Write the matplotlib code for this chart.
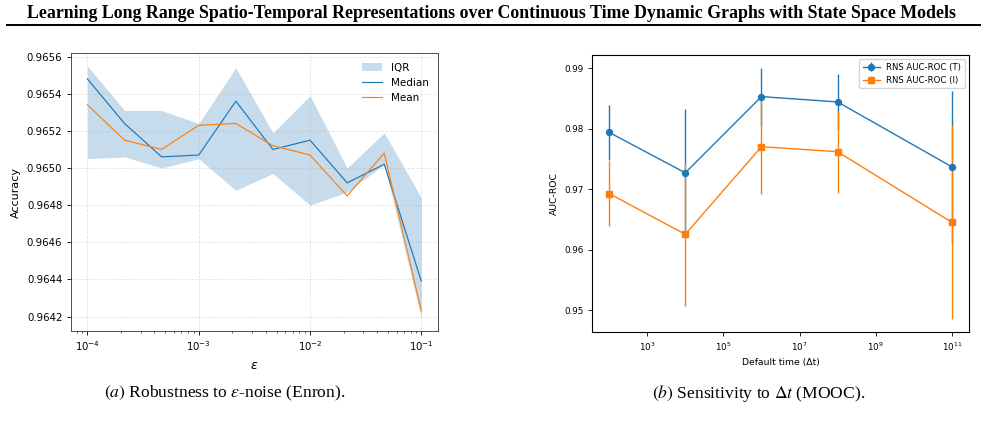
import matplotlib
matplotlib.use("Agg")
import matplotlib.pyplot as plt
from matplotlib.lines import Line2D
from matplotlib.ticker import FormatStrFormatter

plt.rcParams['mathtext.fontset'] = 'stix'

# (a) robustness to epsilon-noise (Enron)
eps = [1e-4, 2.154e-4, 4.642e-4, 1e-3, 2.154e-3, 4.642e-3, 1e-2, 2.154e-2, 4.642e-2, 1e-1]
median = [0.96548, 0.96524, 0.96506, 0.96507, 0.96536, 0.96510, 0.96515, 0.96492, 0.96502, 0.96439]
mean = [0.96534, 0.96515, 0.96510, 0.96523, 0.96524, 0.96512, 0.96507, 0.96485, 0.96508, 0.96423]
iqr_hi = [0.96555, 0.96531, 0.96531, 0.96524, 0.96554, 0.96519, 0.96539, 0.96500, 0.96519, 0.96484]
iqr_lo = [0.96505, 0.96506, 0.96500, 0.96505, 0.96488, 0.96497, 0.96480, 0.96487, 0.96502, 0.96419]

# (b) sensitivity to default time (MOOC)
dt = [1e2, 1e4, 1e6, 1e8, 1e11]
auc_t = [0.97939, 0.97271, 0.98530, 0.98442, 0.97370]
err_t = [0.00450, 0.01060, 0.00480, 0.00460, 0.01254]
auc_i = [0.96928, 0.96254, 0.97702, 0.97619, 0.96453]
err_i = [0.00530, 0.01180, 0.00780, 0.00680, 0.01600]

fig = plt.figure(figsize=(9.85, 4.21), dpi=100)

# page header
fig.text(0.4985, 0.969, "Learning Long Range Spatio-Temporal Representations over Continuous Time Dynamic Graphs with State Space Models",
         ha='center', va='center', family='Liberation Serif', weight='bold', fontsize=12.85)
fig.add_artist(Line2D([0.007, 0.995], [0.940, 0.940], transform=fig.transFigure, color='black', lw=1.4))

# left panel
ax1 = fig.add_axes([0.0718, 0.2138, 0.3729, 0.6596])
ax1.fill_between(eps, iqr_lo, iqr_hi, color='C0', alpha=0.25, lw=0, label='IQR')
ax1.plot(eps, median, color='C0', lw=0.85, label='Median')
ax1.plot(eps, mean, color='C1', lw=0.85, label='Mean')
ax1.set_xscale('log')
ax1.yaxis.set_major_formatter(FormatStrFormatter('%.4f'))
ax1.set_yticks([0.9642, 0.9644, 0.9646, 0.9648, 0.9650, 0.9652, 0.9654, 0.9656])
ax1.grid(True, linestyle='--', alpha=0.35, lw=0.6)
ax1.set_xlabel(r'$\varepsilon$', fontsize=9, math_fontfamily='dejavusans')
ax1.set_ylabel('Accuracy', fontsize=8)
ax1.tick_params(labelsize=7.3, width=0.6, length=2.6)
ax1.tick_params(which='minor', width=0.45, length=1.5)
ax1.legend(loc='upper right', frameon=False, fontsize=7.5, handlelength=2.0)
for s in ax1.spines.values():
    s.set_linewidth(0.6)
    s.set_color('#333333')

# right panel
ax2 = fig.add_axes([0.601, 0.2121, 0.3827, 0.6573])
ax2.errorbar(dt, auc_t, yerr=err_t, marker='o', ms=4.3, color='C0', lw=1.0, elinewidth=1.0, label='RNS AUC-ROC (T)')
ax2.errorbar(dt, auc_i, yerr=err_i, marker='s', ms=4.3, color='C1', lw=1.0, elinewidth=1.0, label='RNS AUC-ROC (I)')
ax2.set_xscale('log')
ax2.set_xticks([1e3, 1e5, 1e7, 1e9, 1e11])
ax2.minorticks_off()
ax2.yaxis.set_major_formatter(FormatStrFormatter('%.2f'))
ax2.set_yticks([0.95, 0.96, 0.97, 0.98, 0.99])
ax2.set_xlabel('Default time (Δt)', fontsize=6.7)
ax2.set_ylabel('AUC-ROC', fontsize=6.7)
ax2.tick_params(labelsize=6.3, width=0.6, length=2.6)
ax2.legend(loc='upper right', fontsize=6.1, handlelength=2.0, borderpad=0.4)
for s in ax2.spines.values():
    s.set_linewidth(0.8)

# captions
fig.text(0.2284, 0.066, r"$\mathit{(a)}$ Robustness to $\epsilon$-noise (Enron).", ha='center', va='center',
         family='Liberation Serif', fontsize=12.6)
fig.text(0.7706, 0.066, r"$\mathit{(b)}$ Sensitivity to $\Delta t$ (MOOC).", ha='center', va='center',
         family='Liberation Serif', fontsize=12.6)

fig.savefig('out.png', dpi=100)
